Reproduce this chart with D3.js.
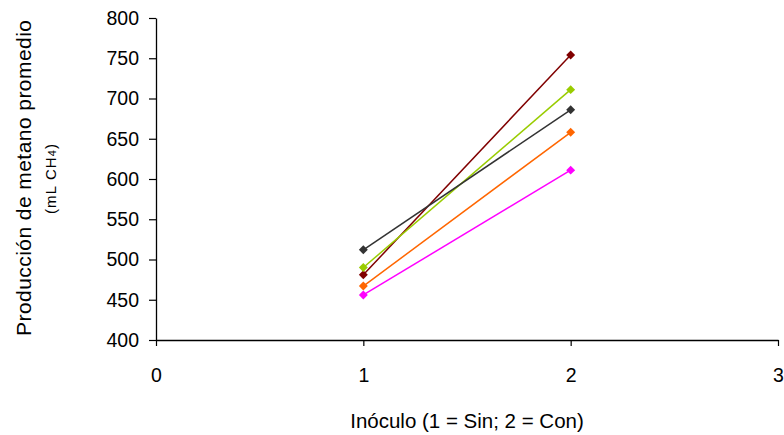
<!DOCTYPE html>
<html>
<head>
<meta charset="utf-8">
<script src="https://cdn.jsdelivr.net/npm/d3@7"></script>
<style>
  html, body { margin: 0; padding: 0; background: #fff; }
  svg { display: block; font-family: "Liberation Sans", Arial, sans-serif; }
</style>
</head>
<body>
<svg id="chart" width="784" height="435"></svg>
<script>
// Inoculum levels on the x axis (1 = Sin, 2 = Con)
const inoculo = [1, 2];

// Mean methane production (mL CH4) per treatment line
const serieRojoOscuro = [481, 754];
const serieVerde = [490, 711];
const serieGris = [512, 686];
const serieNaranja = [467, 658];
const serieMagenta = [456, 611];

const coloresSeries = ["#800000", "#99CC00", "#333333", "#FF6600", "#FF00FF"];
const valoresSeries = [serieRojoOscuro, serieVerde, serieGris, serieNaranja, serieMagenta];

const xTicks = [0, 1, 2, 3];
const yTicks = [400, 450, 500, 550, 600, 650, 700, 750, 800];

const svg = d3.select("#chart");
const mLeft = 156, mRight = 778, mTop = 18, mBottom = 340;
const fontTick = 19.5;

const x = d3.scaleLinear().domain([0, 3]).range([mLeft, mRight]);
const y = d3.scaleLinear().domain([400, 800]).range([mBottom, mTop]);

// Y axis
const yAxis = svg.append("g")
  .attr("transform", `translate(${mLeft},0)`)
  .call(d3.axisLeft(y).tickValues(yTicks).tickSize(7).tickPadding(10).tickSizeOuter(0));
yAxis.select(".domain").attr("stroke", "#000").attr("stroke-width", 1.3);
yAxis.selectAll(".tick line").attr("stroke", "#000").attr("stroke-width", 1.2);
yAxis.selectAll(".tick text").attr("font-size", fontTick).attr("fill", "#000")
  .attr("font-family", "Liberation Sans, Arial, sans-serif");

// X axis
const xAxis = svg.append("g")
  .attr("transform", `translate(0,${mBottom})`)
  .call(d3.axisBottom(x).tickValues(xTicks).tickFormat(d3.format("d")).tickSize(6).tickPadding(22).tickSizeOuter(0));
xAxis.select(".domain").attr("stroke", "#000").attr("stroke-width", 1.3);
xAxis.selectAll(".tick line").attr("stroke", "#000").attr("stroke-width", 1.2);
xAxis.selectAll(".tick text").attr("font-size", fontTick).attr("fill", "#000")
  .attr("font-family", "Liberation Sans, Arial, sans-serif");

// Series lines and diamond markers
const linea = d3.line().x((d, i) => x(inoculo[i])).y(d => y(d));
const diamante = d3.symbol().type(d3.symbolSquare).size(40);

valoresSeries.forEach((vals, k) => {
  svg.append("path")
    .datum(vals)
    .attr("d", linea)
    .attr("fill", "none")
    .attr("stroke", coloresSeries[k])
    .attr("stroke-width", 1.5);
  svg.selectAll(null)
    .data(vals)
    .enter().append("path")
    .attr("d", diamante)
    .attr("transform", (d, i) => `translate(${x(inoculo[i])},${y(d)}) rotate(45)`)
    .attr("fill", coloresSeries[k]);
});

// Axis titles
svg.append("text")
  .attr("x", 467)
  .attr("y", 428)
  .attr("text-anchor", "middle")
  .attr("font-size", 20.5)
  .text("Inóculo (1 = Sin; 2 = Con)");

svg.append("text")
  .attr("transform", `translate(31,178) rotate(-90)`)
  .attr("text-anchor", "middle")
  .attr("font-size", 21)
  .attr("textLength", 316)
  .attr("lengthAdjust", "spacing")
  .text("Producción de metano promedio");

const sub = svg.append("text")
  .attr("transform", `translate(56,179) rotate(-90)`)
  .attr("text-anchor", "middle")
  .attr("font-size", 15)
  .attr("textLength", 70)
  .attr("lengthAdjust", "spacing");
sub.append("tspan").text("(mL CH");
sub.append("tspan").attr("font-size", 11).text("4");
sub.append("tspan").text(")");
</script>
</body>
</html>
